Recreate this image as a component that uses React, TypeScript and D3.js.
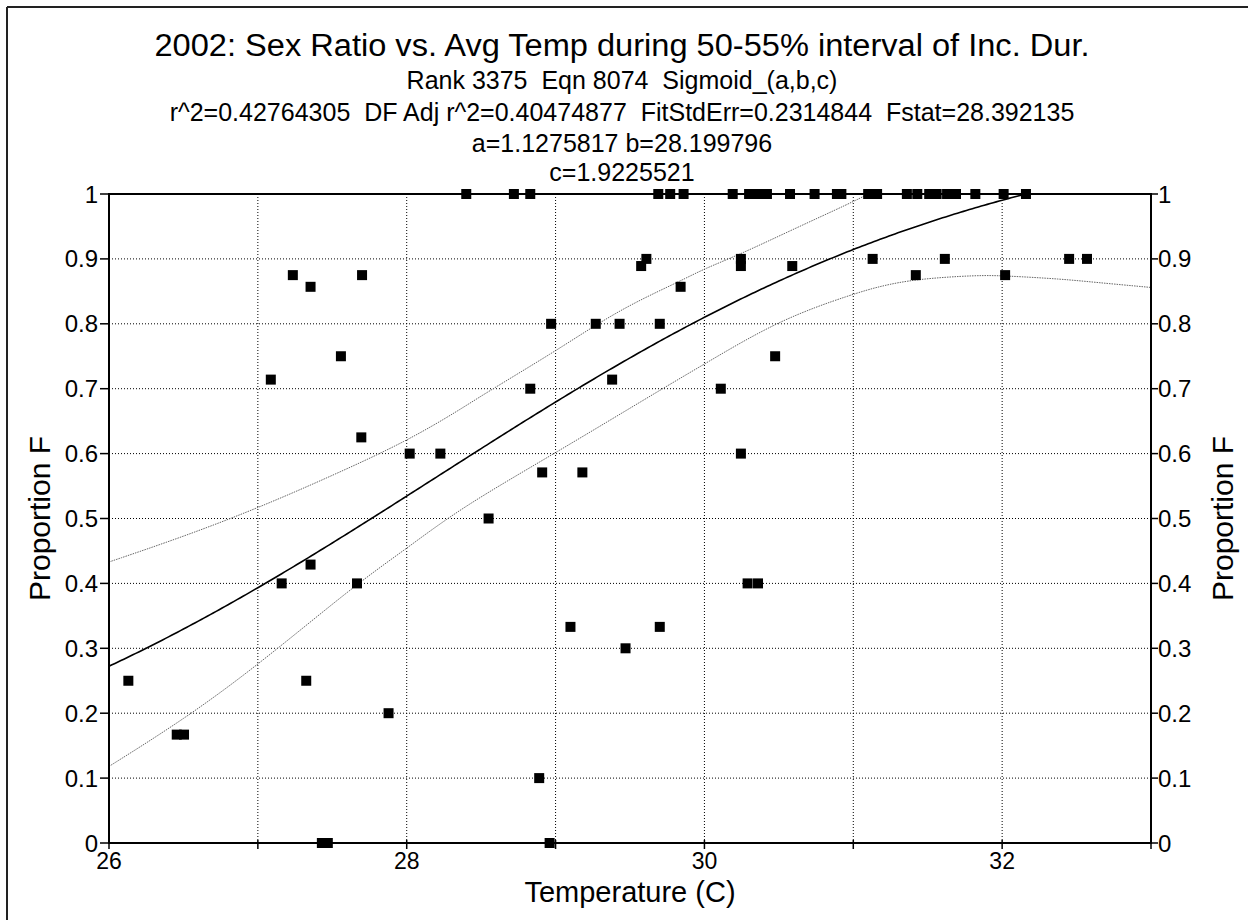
import React from "react";
import * as d3 from "d3";

const titleLines = [
  "2002: Sex Ratio vs. Avg Temp during 50-55% interval of Inc. Dur.",
  "Rank 3375  Eqn 8074  Sigmoid_(a,b,c)",
  "r^2=0.42764305  DF Adj r^2=0.40474877  FitStdErr=0.2314844  Fstat=28.392135",
  "a=1.1275817 b=28.199796",
  "c=1.9225521",
];
const xLabel = "Temperature (C)";
const yLabel = "Proportion F";

const fitA = 1.1275817;
const fitB = 28.199796;
const fitC = 1.9225521;

const xTicksMajor = [26, 28, 30, 32];
const xTicksAll = [26, 27, 28, 29, 30, 31, 32, 33];
const yTicks = [0, 0.1, 0.2, 0.3, 0.4, 0.5, 0.6, 0.7, 0.8, 0.9, 1];

const topRowTemps = [
  28.4, 28.72, 28.83, 29.69, 29.77, 29.86, 30.19, 30.3, 30.355, 30.42, 30.575,
  30.74, 30.89, 30.92, 31.1, 31.13, 31.16, 31.36, 31.43, 31.51, 31.56, 31.63,
  31.69, 31.82, 32.01, 32.16,
];

const otherTemps = [
  26.13, 26.455, 26.504, 27.087, 27.16, 27.235, 27.325, 27.354, 27.354, 27.43,
  27.47, 27.558, 27.666, 27.695, 27.7, 27.878, 28.02, 28.226, 28.55, 28.83,
  28.89, 28.91, 28.96, 28.97, 29.1, 29.18, 29.27, 29.38, 29.43, 29.47, 29.575,
  29.61, 29.7, 29.7, 29.84, 30.11, 30.245, 30.245, 30.245, 30.29, 30.36, 30.475,
  30.59, 31.13, 31.42, 31.615, 32.02, 32.45, 32.57,
];
const otherProps = [
  0.25, 0.167, 0.167, 0.714, 0.4, 0.875, 0.25, 0.857, 0.429, 0, 0, 0.75, 0.4,
  0.625, 0.875, 0.2, 0.6, 0.6, 0.5, 0.7, 0.1, 0.571, 0, 0.8, 0.333, 0.571, 0.8,
  0.714, 0.8, 0.3, 0.889, 0.9, 0.8, 0.333, 0.857, 0.7, 0.9, 0.889, 0.6, 0.4,
  0.4, 0.75, 0.889, 0.9, 0.875, 0.9, 0.875, 0.9, 0.9,
];

const upperX = [26, 26.5, 27, 27.5, 28, 28.36, 28.5, 29, 29.26, 29.53, 29.84, 30.0, 30.24, 30.6, 30.99, 31.1];
const upperY = [0.433, 0.472, 0.516, 0.566, 0.619, 0.668, 0.689, 0.758, 0.797, 0.833, 0.866, 0.885, 0.907, 0.946, 0.987, 1.0];
const lowerX = [26, 26.5, 26.99, 27.666, 27.99, 28.36, 29, 29.71, 30, 30.51, 31, 31.18, 31.42, 31.835, 32.02, 32.4, 32.62, 33];
const lowerY = [0.118, 0.19, 0.272, 0.4, 0.452, 0.516, 0.601, 0.699, 0.738, 0.807, 0.846, 0.858, 0.869, 0.875, 0.874, 0.869, 0.864, 0.856];

const W = 1248;
const H = 920;
const L = 109;
const R = 1151;
const T = 194;
const B = 843;
const FONT = "'Liberation Sans', Arial, Helvetica, sans-serif";

export default function App() {
  const x = d3.scaleLinear().domain([26, 33]).range([L, R]);
  const y = d3.scaleLinear().domain([0, 1]).range([B, T]);

  const points = [
    ...topRowTemps.map((t) => [t, 1] as [number, number]),
    ...otherTemps.map((t, i) => [t, otherProps[i]] as [number, number]),
  ];

  const sig = (t: number) => fitA / (1 + Math.exp(-(t - fitB) / fitC));
  const fitData = d3.range(26, 33.001, 0.02).map((t) => [t, sig(t)] as [number, number]);

  const line = d3
    .line<[number, number]>()
    .x((d) => x(d[0]))
    .y((d) => y(d[1]));
  const bandLine = d3
    .line<[number, number]>()
    .x((d) => x(d[0]))
    .y((d) => y(d[1]))
    .curve(d3.curveBasis);

  const upper = upperX.map((t, i) => [t, upperY[i]] as [number, number]);
  const lower = lowerX.map((t, i) => [t, lowerY[i]] as [number, number]);

  const ms = 10;
  const pre = { whiteSpace: "pre" as const };

  return (
    <div style={{ position: "absolute", left: 0, top: 0 }}>
      <svg width={W} height={H} style={{ display: "block", background: "#fff" }} fontFamily={FONT}>
        <rect x={0} y={0} width={W} height={H} fill="#fff" />
        <line x1={7} y1={7} x2={W} y2={7} stroke="#222" strokeWidth={2} />
        <line x1={7} y1={7} x2={7} y2={H} stroke="#222" strokeWidth={2} />
        <defs>
          <clipPath id="plotclip">
            <rect x={L} y={T} width={R - L} height={B - T} />
          </clipPath>
        </defs>

        {/* titles */}
        <text x={622} y={56} textAnchor="middle" fontSize={31} style={pre} textLength={935} lengthAdjust="spacingAndGlyphs">{titleLines[0]}</text>
        <text x={622} y={89} textAnchor="middle" fontSize={25} style={pre}>{titleLines[1]}</text>
        <text x={622} y={121} textAnchor="middle" fontSize={25} style={pre}>{titleLines[2]}</text>
        <text x={622} y={152} textAnchor="middle" fontSize={25} style={pre}>{titleLines[3]}</text>
        <text x={622} y={181} textAnchor="middle" fontSize={25} style={pre}>{titleLines[4]}</text>

        {/* grid */}
        {xTicksAll.slice(1, -1).map((t) => (
          <line key={"gx" + t} x1={x(t)} x2={x(t)} y1={T} y2={B} stroke="#000" strokeWidth={1} strokeDasharray="1,2" />
        ))}
        {yTicks.slice(1, -1).map((v) => (
          <line key={"gy" + v} x1={L} x2={R} y1={y(v)} y2={y(v)} stroke="#000" strokeWidth={1} strokeDasharray="1,2" />
        ))}

        <g clipPath="url(#plotclip)">
          <path d={bandLine(upper) || ""} fill="none" stroke="#666" strokeWidth={1} strokeDasharray="1.5,1" />
          <path d={bandLine(lower) || ""} fill="none" stroke="#666" strokeWidth={1} strokeDasharray="1.5,1" />
          <path d={line(fitData) || ""} fill="none" stroke="#000" strokeWidth={1.6} />
        </g>

        {/* frame */}
        <rect x={L} y={T} width={R - L} height={B - T} fill="none" stroke="#000" strokeWidth={2} />

        {/* points */}
        {points.map((p, i) => (
          <rect key={"p" + i} x={x(p[0]) - ms / 2} y={y(p[1]) - ms / 2} width={ms} height={ms} fill="#000" />
        ))}

        {/* y ticks left & right */}
        {yTicks.map((v) => (
          <g key={"ty" + v}>
            <line x1={L - 9} x2={L} y1={y(v)} y2={y(v)} stroke="#000" strokeWidth={1.5} />
            <line x1={R} x2={R + 7} y1={y(v)} y2={y(v)} stroke="#000" strokeWidth={1.5} />
            <text x={L - 11} y={y(v) + 8.5} textAnchor="end" fontSize={24}>{String(v)}</text>
            <text x={R + 7} y={y(v) + 8.5} textAnchor="start" fontSize={24}>{String(v)}</text>
          </g>
        ))}

        {/* x ticks */}
        {xTicksAll.map((t) => (
          <line key={"tx" + t} x1={x(t)} x2={x(t)} y1={B - 3} y2={B + 6} stroke="#000" strokeWidth={1.5} />
        ))}
        {xTicksMajor.map((t) => (
          <text key={"lx" + t} x={x(t)} y={B + 26} textAnchor="middle" fontSize={23}>{String(t)}</text>
        ))}

        <text x={(L + R) / 2} y={B + 59} textAnchor="middle" fontSize={29}>{xLabel}</text>
        <text transform={`translate(50,${(T + B) / 2}) rotate(-90)`} textAnchor="middle" fontSize={30}>{yLabel}</text>
        <text transform={`translate(1233,${(T + B) / 2}) rotate(-90)`} textAnchor="middle" fontSize={30}>{yLabel}</text>
      </svg>
    </div>
  );
}
